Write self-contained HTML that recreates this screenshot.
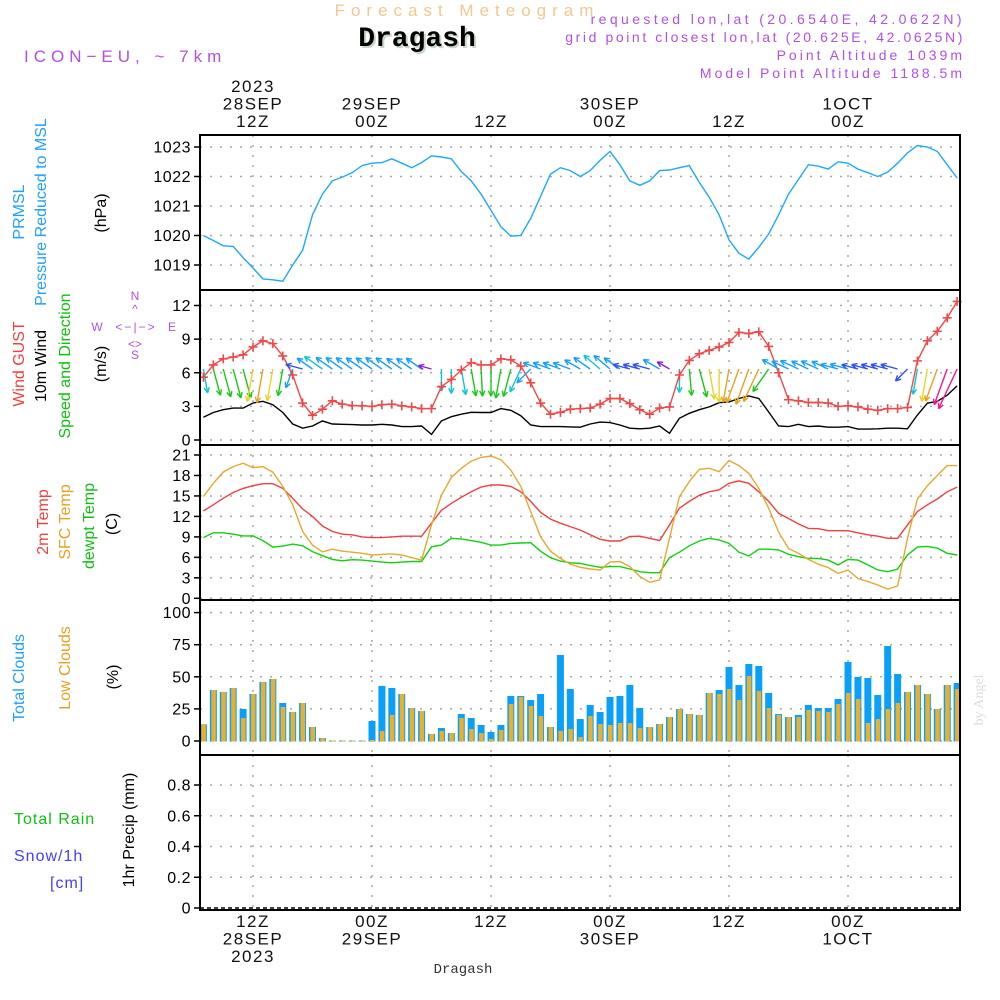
<!DOCTYPE html>
<html><head><meta charset="utf-8"><style>
html,body{margin:0;padding:0;background:#fff;}
svg{display:block;font-family:"Liberation Sans",sans-serif;}
</style></head><body>
<svg id="chart" width="1000" height="1000" viewBox="0 0 1000 1000" xmlns="http://www.w3.org/2000/svg">
<g>
<text x="467" y="16" text-anchor="middle" font-size="17" fill="#f2c890" letter-spacing="6">Forecast Meteogram</text>
<text x="419" y="48" text-anchor="middle" font-size="28" font-weight="bold" font-family="Liberation Mono, monospace" fill="#c8d8c8">Dragash</text>
<text x="417" y="46" text-anchor="middle" font-size="28" font-weight="bold" font-family="Liberation Mono, monospace" fill="#000">Dragash</text>
<text x="24" y="62" font-size="17" fill="#b050e8" letter-spacing="5">ICON−EU, ~ 7km</text>
<text x="965" y="24" text-anchor="end" font-size="14" fill="#b050e8" letter-spacing="3.4">requested lon,lat (20.6540E, 42.0622N)</text>
<text x="965" y="42" text-anchor="end" font-size="14" fill="#b050e8" letter-spacing="2.6">grid point closest lon,lat (20.625E, 42.0625N)</text>
<text x="965" y="60" text-anchor="end" font-size="14" fill="#b050e8" letter-spacing="3">Point Altitude 1039m</text>
<text x="965" y="78" text-anchor="end" font-size="14" fill="#b050e8" letter-spacing="3">Model Point Altitude 1188.5m</text>
</g>
<g id="plots"></g>
<g font-size="16">
<text transform="translate(24,212) rotate(-90)" text-anchor="middle" fill="#20a0ff">PRMSL</text>
<text transform="translate(46,212) rotate(-90)" text-anchor="middle" fill="#20a0ff">Pressure Reduced to MSL</text>
<text transform="translate(106,213) rotate(-90)" text-anchor="middle" fill="#000">(hPa)</text>
<text transform="translate(24,364) rotate(-90)" text-anchor="middle" fill="#f04040">Wind GUST</text>
<text transform="translate(46,366) rotate(-90)" text-anchor="middle" fill="#000">10m Wind</text>
<text transform="translate(70,366) rotate(-90)" text-anchor="middle" fill="#10c010">Speed and Direction</text>
<text transform="translate(106,364) rotate(-90)" text-anchor="middle" fill="#000">(m/s)</text>
<g fill="#b050e8" font-size="12">
<text x="135" y="300" text-anchor="middle">N</text>
<text x="97" y="331" text-anchor="middle">W</text>
<text x="172" y="331" text-anchor="middle">E</text>
<text x="135" y="359" text-anchor="middle">S</text>
<text x="136" y="331" text-anchor="middle" letter-spacing="2">&lt;−|−&gt;</text>
<text x="135" y="313" text-anchor="middle">^</text>
<text x="135" y="348" text-anchor="middle">&lt;&gt;</text>
</g>
<text transform="translate(48,522) rotate(-90)" text-anchor="middle" fill="#f04040">2m Temp</text>
<text transform="translate(70,522) rotate(-90)" text-anchor="middle" fill="#e8a020">SFC Temp</text>
<text transform="translate(94,526) rotate(-90)" text-anchor="middle" fill="#10c010">dewpt Temp</text>
<text transform="translate(117,524) rotate(-90)" text-anchor="middle" fill="#000">(C)</text>
<text transform="translate(24,678) rotate(-90)" text-anchor="middle" fill="#20a0ff">Total Clouds</text>
<text transform="translate(70,668) rotate(-90)" text-anchor="middle" fill="#e8a020">Low Clouds</text>
<text transform="translate(118,677) rotate(-90)" text-anchor="middle" fill="#000">(%)</text>
<text x="14" y="824" fill="#10c010" letter-spacing="1">Total  Rain</text>
<text x="14" y="861" fill="#4040ff" letter-spacing="1">Snow/1h</text>
<text x="50" y="888" fill="#4040ff" letter-spacing="1">[cm]</text>
<text transform="translate(134,830) rotate(-90)" text-anchor="middle" fill="#000">1hr Precip (mm)</text>
<text transform="translate(983,700) rotate(-90)" text-anchor="middle" fill="#dcdcdc" font-size="14" font-family="Liberation Serif, serif">by Angel</text>
<text x="463" y="973" text-anchor="middle" fill="#333" font-size="14" font-family="Liberation Mono, monospace">Dragash</text>
</g>
</svg>
<script>
const hours = [];for (let h = 7; h <= 83; h++) hours.push(h);
const pressure = [1020.0,1019.83,1019.65,1019.63,1019.25,1018.9,1018.53,1018.5,1018.45,1019.0,1019.5,1020.7,1021.4,1021.85,1021.98,1022.13,1022.37,1022.45,1022.47,1022.6,1022.45,1022.3,1022.47,1022.7,1022.66,1022.6,1022.17,1021.85,1021.4,1020.85,1020.3,1019.98,1020.0,1020.58,1021.33,1022.08,1022.3,1022.2,1022.0,1022.2,1022.55,1022.85,1022.4,1021.85,1021.7,1021.85,1022.2,1022.22,1022.3,1022.37,1021.8,1021.3,1020.7,1019.85,1019.4,1019.2,1019.6,1020.05,1020.7,1021.4,1021.9,1022.4,1022.35,1022.25,1022.5,1022.45,1022.25,1022.13,1022.0,1022.15,1022.45,1022.8,1023.05,1023.0,1022.85,1022.4,1021.95];
const gust = [5.6,6.7,7.24,7.4,7.6,8.3,8.85,8.6,7.5,5.8,3.3,2.2,2.75,3.5,3.2,3.07,3.05,3.0,3.15,3.2,3.05,2.95,2.8,2.8,4.76,5.4,6.25,6.9,6.7,6.7,7.24,7.15,6.6,5.1,3.3,2.3,2.47,2.75,2.8,2.85,3.2,3.7,3.7,3.25,2.7,2.3,2.85,2.95,5.8,7.1,7.7,8.0,8.3,8.7,9.6,9.5,9.65,8.35,6.0,3.6,3.5,3.35,3.35,3.3,3.0,3.05,2.95,2.75,2.65,2.8,2.8,2.9,7.06,8.85,9.7,10.9,12.36];
const wind10m = [2.03,2.45,2.7,2.85,2.85,3.3,3.45,3.15,2.45,1.43,1.05,1.25,1.7,1.43,1.4,1.37,1.34,1.34,1.4,1.34,1.2,1.2,1.25,0.5,1.7,2.08,2.3,2.47,2.45,2.45,2.8,2.65,2.17,1.34,1.2,1.2,1.2,1.17,1.14,1.43,1.6,1.55,1.34,1.05,1.0,1.05,1.25,0.6,1.94,2.38,2.7,2.95,3.33,3.4,3.7,3.93,3.7,2.5,1.25,1.2,1.4,1.2,1.25,1.14,1.14,1.2,0.97,0.97,1.0,1.05,1.05,1.0,2.23,3.28,3.45,4.0,4.83];
const windDir = [170,165,165,165,165,190,190,190,190,200,285,305,305,305,305,305,305,305,305,305,305,305,305,285,180,180,170,170,177,180,190,195,205,225,290,290,290,290,300,305,310,310,305,285,285,285,300,300,180,175,165,170,180,190,200,200,205,215,300,295,295,295,295,295,285,285,285,285,285,285,285,225,190,190,200,200,205];
const temp2m = [12.8,13.7,14.65,15.5,16.1,16.5,16.8,16.8,16.1,14.65,13.1,12.0,10.6,9.8,9.4,9.3,9.0,8.9,8.9,9.0,9.1,9.1,9.1,11.0,12.9,13.9,14.8,15.6,16.3,16.6,16.6,16.4,15.6,14.2,12.6,11.6,11.0,10.5,10.0,9.3,8.65,8.4,8.4,9.05,9.1,8.8,8.45,10.75,13.2,14.2,15.1,15.6,15.9,16.85,17.2,16.85,15.6,14.2,12.45,11.7,10.9,10.25,10.2,9.9,9.9,9.9,9.6,9.3,9.1,8.8,8.8,10.75,12.7,13.7,14.55,15.6,16.3];
const tempSfc = [14.9,16.85,18.5,19.3,19.8,19.15,19.3,18.5,16.4,13.7,9.8,7.8,6.8,7.2,6.9,6.75,6.6,6.35,6.45,6.5,6.35,5.95,5.6,10.75,15.1,17.7,19.05,20.1,20.65,20.85,20.3,18.8,16.4,12.7,9.0,6.9,5.85,5.0,4.55,4.3,4.15,5.3,5.4,4.65,3.2,2.35,2.7,8.8,14.9,17.1,18.9,19.05,18.55,20.2,19.45,18.3,16.1,13.2,9.7,7.3,6.6,5.7,5.0,4.5,3.65,4.15,2.9,2.45,1.95,1.35,1.8,8.8,14.55,16.5,18.0,19.45,19.45];
const dewpt = [8.9,9.6,9.6,9.4,9.15,9.15,8.45,7.5,7.65,7.95,7.7,6.85,6.25,5.7,5.5,5.65,5.6,5.45,5.3,5.2,5.3,5.4,5.4,7.55,7.8,8.8,8.7,8.45,8.2,7.8,7.8,8.05,8.1,8.15,6.9,5.95,5.45,5.2,5.1,4.8,4.55,4.65,4.65,4.3,3.9,3.75,3.75,5.95,6.75,7.7,8.4,8.8,8.55,8.05,6.75,6.2,7.2,7.2,7.1,6.45,6.1,5.85,5.85,5.6,4.9,5.7,5.6,4.9,4.15,3.9,4.3,6.35,7.5,7.6,7.35,6.6,6.35];
const totalClouds = [13,39.7,38.2,41.3,24.9,36.6,46,48.3,29.6,22.6,29.6,10.9,2.3,0.3,0.3,0.3,0.3,15.6,42.9,41.3,36.6,25.7,23.4,5.5,10.1,6.2,21.0,17.9,12.5,7.0,12.5,35.1,35.1,31.9,36.6,10.9,67,40.5,17.1,28.1,22.6,34.3,35.1,43.6,25.7,10.9,13.2,18.7,24.9,21.0,20.3,37.4,39.7,57.7,43.6,60,58.4,37.4,21,18.7,20.3,28.1,25.7,25.7,32.7,61.6,49.9,49.1,35.8,74,52.2,38.2,43.6,36.6,24.9,43.6,45.2];
const lowClouds = [13,39.7,38.2,41.3,17.9,36.6,46,48.3,26.5,22.6,29.6,10.9,2.3,0.3,0.3,0.3,0.3,0.8,7.8,20.3,36.6,25.7,23.4,5.5,7.8,6.2,17.9,9.4,6.2,1.6,8.6,28.8,34.3,27.3,19.5,10.9,7.8,9.4,3.1,19.5,13.2,12.5,14.0,14.0,10.1,10.9,13.2,18.7,24.9,21.0,20.3,37.4,36.6,40.5,31.9,50.6,39,25.7,20.3,18.7,18.7,24.2,23.4,22.6,28.8,37.4,32.7,14.0,17.1,24.9,29.6,38.2,43.6,36.6,24.9,43.6,40.5];
const pTicks = [1019,1020,1021,1022,1023];
const wTicks = [0,3,6,9,12];
const tTicks = [0,3,6,9,12,15,18,21];
const cTicks = [0,25,50,75,100];
const rTicks = [0,0.2,0.4,0.6,0.8];
const dayLines = [12,24,36,48,60,72];

const NS = "http://www.w3.org/2000/svg";
const X0 = 200, X1 = 960;
function xs(h){ return 253 + (h - 12) * 9.917; }
function lin(v, v0, y0, v1, y1){ return y0 + (v - v0) * (y1 - y0) / (v1 - v0); }
const yP = v => lin(v, 1019, 265, 1023, 147);
const yW = v => lin(v, 0, 440, 12, 305.5);
const yT = v => lin(v, 0, 598.3, 21, 455);
const yC = v => lin(v, 0, 741, 100, 612.6);
const yR = v => lin(v, 0, 908, 0.8, 785);
const root = document.getElementById('plots');
function mk(tag, attrs, parent){ const e = document.createElementNS(NS, tag); for (const k in attrs) e.setAttribute(k, attrs[k]); (parent || root).appendChild(e); return e; }

const panels = [
 {top:135,bot:290,ticks:pTicks,y:yP,name:'pressure-panel',fmt:v=>String(v)},
 {top:290,bot:445,ticks:wTicks,y:yW,name:'wind-panel',fmt:v=>String(v)},
 {top:445,bot:600,ticks:tTicks,y:yT,name:'temperature-panel',fmt:v=>String(v)},
 {top:600,bot:755,ticks:cTicks,y:yC,name:'clouds-panel',fmt:v=>String(v)},
 {top:755,bot:910,ticks:rTicks,y:yR,name:'precip-panel',fmt:v=>v===0?'0':v.toFixed(1)}
];
panels.forEach(p => {
 const g = mk('g', {});
 
 
 p.g = g;
 p.ticks.forEach(t => {
  const y = p.y(t);
  if (!(p.name === 'precip-panel' && t === 0)) {
   const gl = mk('line', {x1:X0, x2:X1, y1:y, y2:y, stroke:'#a8a8a8', 'stroke-width':1.5, 'stroke-dasharray':'2,8'}, g);
   
   
  } else {
   const gl = mk('line', {x1:X0, x2:X1, y1:y, y2:y, stroke:'#000', 'stroke-width':1.5, 'stroke-dasharray':'4,3'}, g);
   
   
  }
  const tk = mk('line', {x1:194, x2:X0, y1:y, y2:y, stroke:'#000', 'stroke-width':1.5}, g);
  
  
  const lb = mk('text', {x:191, y:y+5.5, 'text-anchor':'end', 'font-size':16, 'letter-spacing':0.5, fill:'#000'}, g);
  lb.textContent = p.fmt(t);
  
  
 });
 dayLines.forEach(h => {
  const vl = mk('line', {x1:xs(h), x2:xs(h), y1:p.top, y2:p.bot, stroke:'#a8a8a8', 'stroke-width':1.5, 'stroke-dasharray':'2,8'}, g);
  
  
 });
});
function polyline(arr, yf, color, name, g){
 const pts = hours.map((h,i) => xs(h).toFixed(1) + ',' + yf(arr[i]).toFixed(1)).join(' ');
 const pl = mk('polyline', {points:pts, fill:'none', stroke:color, 'stroke-width':1.4}, g);
 
 
 return pl;
}
const cg = panels[3].g;
hours.forEach((h,i) => {
 const x = xs(h);
 const bx = Math.max(X0, x - 3.5), bw = Math.min(x + 3.5, X1) - bx;
 if (bw > 0) {
  const b = mk('rect', {x:bx, y:yC(totalClouds[i]), width:bw, height:yC(0)-yC(totalClouds[i])+0.5, fill:'#0aa0f8'}, cg);
  
  
 }
 const ox = Math.max(X0, x - 2), ow = Math.min(x + 2.5, X1) - ox;
 if (ow > 0) {
  const o = mk('rect', {x:ox, y:yC(lowClouds[i]), width:ow, height:yC(0)-yC(lowClouds[i])+0.5, fill:'#e8b030'}, cg);
  
  
 }
});
polyline(pressure, yP, '#1ea8ff', 'pressure-line', panels[0].g);
polyline(dewpt, yT, '#10d010', 'dewpoint-line', panels[2].g);
polyline(temp2m, yT, '#f04040', 'temp-2m-line', panels[2].g);
polyline(tempSfc, yT, '#e8a830', 'sfc-temp-line', panels[2].g);
const wg = panels[1].g;
polyline(wind10m, yW, '#000', 'wind-10m-line', wg);
polyline(gust, yW, '#f04848', 'gust-line', wg);
function windColor(s){
 if (s < 0.7) return '#8a20e0';
 if (s < 1.1) return '#2e50f0';
 if (s < 1.6) return '#18a0f8';
 if (s < 2.35) return '#10c4d0';
 if (s < 2.9) return '#18c818';
 if (s < 3.4) return '#e8d428';
 if (s < 3.95) return '#e8a020';
 return '#f01890';
}
hours.forEach((h,i) => {
 const x0 = xs(h), y0 = 369;
 const len = 10 + 7 * wind10m[i];
 const a = windDir[i] * Math.PI / 180;
 const dx = Math.sin(a), dy = -Math.cos(a);
 const x1 = x0 + dx*len, y1 = y0 + dy*len;
 const col = windColor(wind10m[i]);
 const g = mk('g', {stroke:col, 'stroke-width':1.4, fill:'none'}, wg);
 
 
 mk('line', {x1:x0, y1:y0, x2:x1, y2:y1}, g);
 const hl = 6, sp = 0.45;
 [a + Math.PI - sp, a + Math.PI + sp].forEach(b => {
  mk('line', {x1:x1, y1:y1, x2:x1 + Math.sin(b)*hl, y2:y1 - Math.cos(b)*hl}, g);
 });
});
hours.forEach((h,i) => {
 const x = xs(h), y = yW(gust[i]);
 const m = mk('path', {d:`M${x-4.5},${y}H${x+4.5}M${x},${y-4.5}V${y+4.5}`, stroke:'#f04848', 'stroke-width':1.6}, wg);
 
 
});
panels.forEach(p => {
 const f = mk('rect', {x:X0, y:p.top, width:X1-X0, height:p.bot-p.top, fill:'none', stroke:'#000', 'stroke-width':2});
 
 
});
const topLabels = [[12,['2023','28SEP','12Z']],[24,['29SEP','00Z']],[36,['12Z']],[48,['30SEP','00Z']],[60,['12Z']],[72,['1OCT','00Z']]];
topLabels.forEach(([h, lines]) => {
 lines.forEach((t, k) => {
  const tx = mk('text', {x:xs(h), y:127 - (lines.length-1-k)*17.5, 'text-anchor':'middle', 'font-size':17, 'letter-spacing':1.5, fill:'#111'});
  tx.textContent = t;
  
  
 });
});
const botLabels = [[12,['12Z','28SEP','2023']],[24,['00Z','29SEP']],[36,['12Z']],[48,['00Z','30SEP']],[60,['12Z']],[72,['00Z','1OCT']]];
botLabels.forEach(([h, lines]) => {
 lines.forEach((t, k) => {
  const tx = mk('text', {x:xs(h), y:927 + k*17.5, 'text-anchor':'middle', 'font-size':17, 'letter-spacing':1.5, fill:'#111'});
  tx.textContent = t;
  
  
 });
});
</script>
</body></html>
